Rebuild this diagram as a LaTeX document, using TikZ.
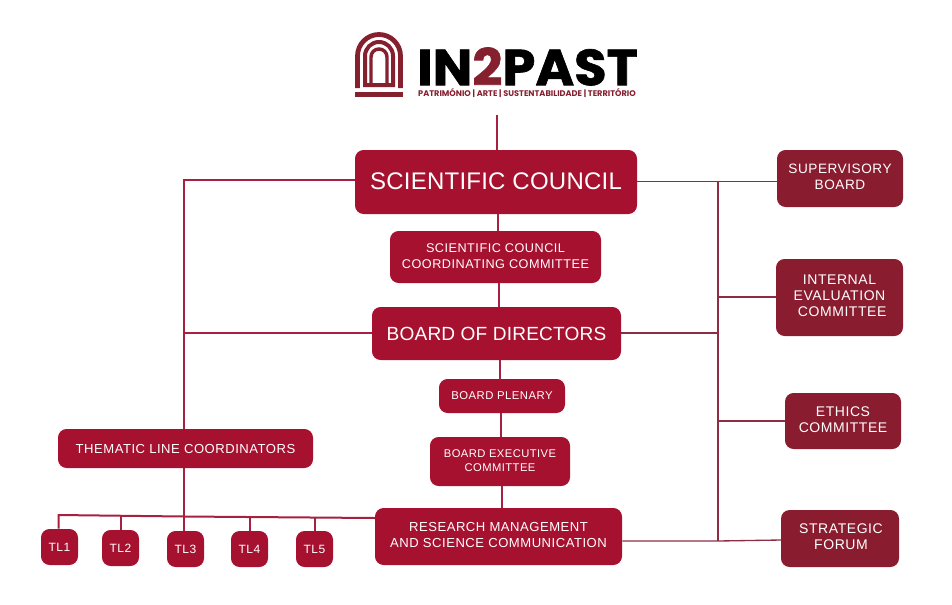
\documentclass[tikz,border=0pt]{standalone}
\usepackage{graphicx}
\usepackage{fontspec}
\setmainfont{Liberation Sans}
\newfontfamily\boxfont[LetterSpace=4]{Liberation Sans}
\newfontfamily\bigfont[LetterSpace=1]{Liberation Sans}
\newfontfamily\logofont[BoldFeatures={FakeBold=1.2}]{Poppins}
\newfontfamily\tagfont{Poppins}
\definecolor{crim}{HTML}{A6112F}
\definecolor{wine}{HTML}{8A1C30}
\definecolor{logored}{HTML}{85202F}
\definecolor{linec}{HTML}{A62040}
\definecolor{linew}{HTML}{8E2C44}
\tikzset{
  bx/.style={rounded corners=6.5pt,align=center,text=white,inner sep=0pt,anchor=center},
  crimbox/.style={bx,fill=crim},
  winebox/.style={bx,fill=wine},
  sz/.style 2 args={minimum width=#1*0.75pt,minimum height=#2*0.75pt},
  conn/.style={draw=linec,line width=1.5pt},
  connw/.style={draw=linew,line width=1pt},
  arch/.style={draw=logored,line width=3pt}
}
\begin{document}
\begin{tikzpicture}[x=0.75pt,y=-0.75pt]
\useasboundingbox (0,0) rectangle (952,604);
% logo
\draw[arch,line width=3.6pt] (357.5,88) -- (357.5,56) arc[start angle=180,end angle=360,radius=21.5] -- (400.5,88);
\draw[arch] (365,85) -- (365,56) arc[start angle=180,end angle=360,radius=14] -- (393,85) -- cycle;
\draw[arch,line width=2.6pt] (371,84) -- (371,57) arc[start angle=180,end angle=360,radius=8] -- (387,84);
\fill[logored] (355,91.5) rectangle (403,97);
\node[anchor=center,inner sep=0pt] (logotext) at (527.5,66.5) {\scalebox{1.04}[1]{\logofont\bfseries\fontsize{38}{38}\selectfont IN\textcolor{logored}{2}PAST}};
\node[anchor=center,inner sep=0pt,text=logored] (tagline) at (527,93) {\tagfont\bfseries\fontsize{6.15}{6.5}\selectfont PATRIMÓNIO | ARTE | SUSTENTABILIDADE | TERRITÓRIO};
\coordinate (logofoot) at (497,115);
% nodes
\node[crimbox,sz={282}{64},font=\bigfont\fontsize{18}{20}\selectfont] (sc) at (496,182) {\raisebox{1pt}{SCIENTIFIC COUNCIL}};
\node[crimbox,sz={211}{52},font=\boxfont\fontsize{9.5}{12}\selectfont] (sccc) at (495.5,257) {\raisebox{0.7pt}{\begin{tabular}{@{}c@{}}SCIENTIFIC COUNCIL\\COORDINATING COMMITTEE\end{tabular}}};
\node[crimbox,sz={249}{53},font=\bigfont\fontsize{14.3}{18}\selectfont] (bod) at (496.5,333.5) {BOARD OF DIRECTORS};
\node[crimbox,sz={126}{34},font=\boxfont\fontsize{8.5}{11}\selectfont] (bp) at (502,396) {BOARD PLENARY};
\node[crimbox,sz={140}{49},font=\boxfont\fontsize{8.4}{11}\selectfont] (bec) at (500,461.5) {\raisebox{0.7pt}{\begin{tabular}{@{}c@{}}BOARD EXECUTIVE\\[-0.4pt]COMMITTEE\end{tabular}}};
\node[crimbox,sz={247}{57},font=\boxfont\fontsize{9.8}{12}\selectfont] (rm) at (498.5,536.5) {\raisebox{1.5pt}{\begin{tabular}{@{}c@{}}RESEARCH MANAGEMENT\\AND SCIENCE COMMUNICATION\end{tabular}}};
\node[crimbox,sz={255}{39},font=\boxfont\fontsize{9.8}{12}\selectfont] (tlc) at (185.5,448.5) {\raisebox{-0.7pt}{THEMATIC LINE COORDINATORS}};
\node[crimbox,sz={37}{36},font=\boxfont\fontsize{9}{11}\selectfont] (tl1) at (59.5,547) {TL1};
\node[crimbox,sz={37}{36},font=\boxfont\fontsize{9}{11}\selectfont] (tl2) at (120.5,548) {TL2};
\node[crimbox,sz={37}{36},font=\boxfont\fontsize{9}{11}\selectfont] (tl3) at (185.5,549) {TL3};
\node[crimbox,sz={37}{36},font=\boxfont\fontsize{9}{11}\selectfont] (tl4) at (249.5,549) {TL4};
\node[crimbox,sz={37}{36},font=\boxfont\fontsize{9}{11}\selectfont] (tl5) at (314.5,549) {TL5};
\node[winebox,sz={126}{57},font=\boxfont\fontsize{10.2}{12}\selectfont] (sup) at (840,178.5) {\raisebox{0.4pt}{\begin{tabular}{@{}c@{}}SUPERVISORY\\BOARD\end{tabular}}};
\node[winebox,sz={127}{77},font=\boxfont\fontsize{10.5}{12}\selectfont] (iec) at (839.5,297.5) {\raisebox{0.4pt}{\begin{tabular}{@{}c@{}}INTERNAL\\EVALUATION\\\hspace{4pt}COMMITTEE\end{tabular}}};
\node[winebox,sz={116}{56},font=\boxfont\fontsize{10.5}{12}\selectfont] (eth) at (843,421) {\raisebox{0.4pt}{\begin{tabular}{@{}c@{}}ETHICS\\COMMITTEE\end{tabular}}};
\node[winebox,sz={118}{57},font=\boxfont\fontsize{10.5}{12}\selectfont] (sf) at (840,538.5) {\hspace{1.5pt}\raisebox{0.4pt}{\begin{tabular}{@{}c@{}}STRATEGIC\\FORUM\end{tabular}}};
% junctions
\coordinate (jsc) at (184,180);
\coordinate (jbod) at (184,333);
\coordinate (bus) at (184,516.5);
\coordinate (busL) at (58.5,515);
\coordinate (r1) at (718,181.5);
\coordinate (r2) at (718,297);
\coordinate (r3) at (718,333);
\coordinate (r4) at (718,421);
\coordinate (r5) at (718,541);
% central spine
\draw[conn] (logofoot) -- (sc.north -| logofoot);
\draw[conn] (498,214) -- (498,231);
\draw[conn] (499,283) -- (499,307);
\draw[conn] (500,360) -- (500,380);
\draw[conn] (501,413) -- (501,437);
\draw[conn] (502,486) -- (502,508);
% left
\draw[conn] (sc.west |- jsc) -- (jsc) -- (tlc.north -| jsc);
\draw[conn] (bod.west |- jbod) -- (jbod);
\draw[conn] (tlc.south -| bus) -- (tl3.north -| bus);
\draw[conn] (375,518) -- (bus) -- (busL) -- (tl1.north -| busL);
\draw[conn] (120.5,515.5) -- (tl2.north);
\draw[conn] (tl4.north) -- (249.5,517);
\draw[conn] (tl5.north) -- (314.5,517.5);
% right
\draw[connw] (sc.east |- r1) -- (r1) -- (sup.west |- r1);
\draw[connw] (r1) -- (r5);
\draw[connw] (bod.east |- r3) -- (r3);
\draw[connw] (r2) -- (iec.west |- r2);
\draw[connw] (r4) -- (eth.west |- r4);
\draw[connw] (rm.east |- r5) -- (r5) -- (781,540);
\end{tikzpicture}
\end{document}
